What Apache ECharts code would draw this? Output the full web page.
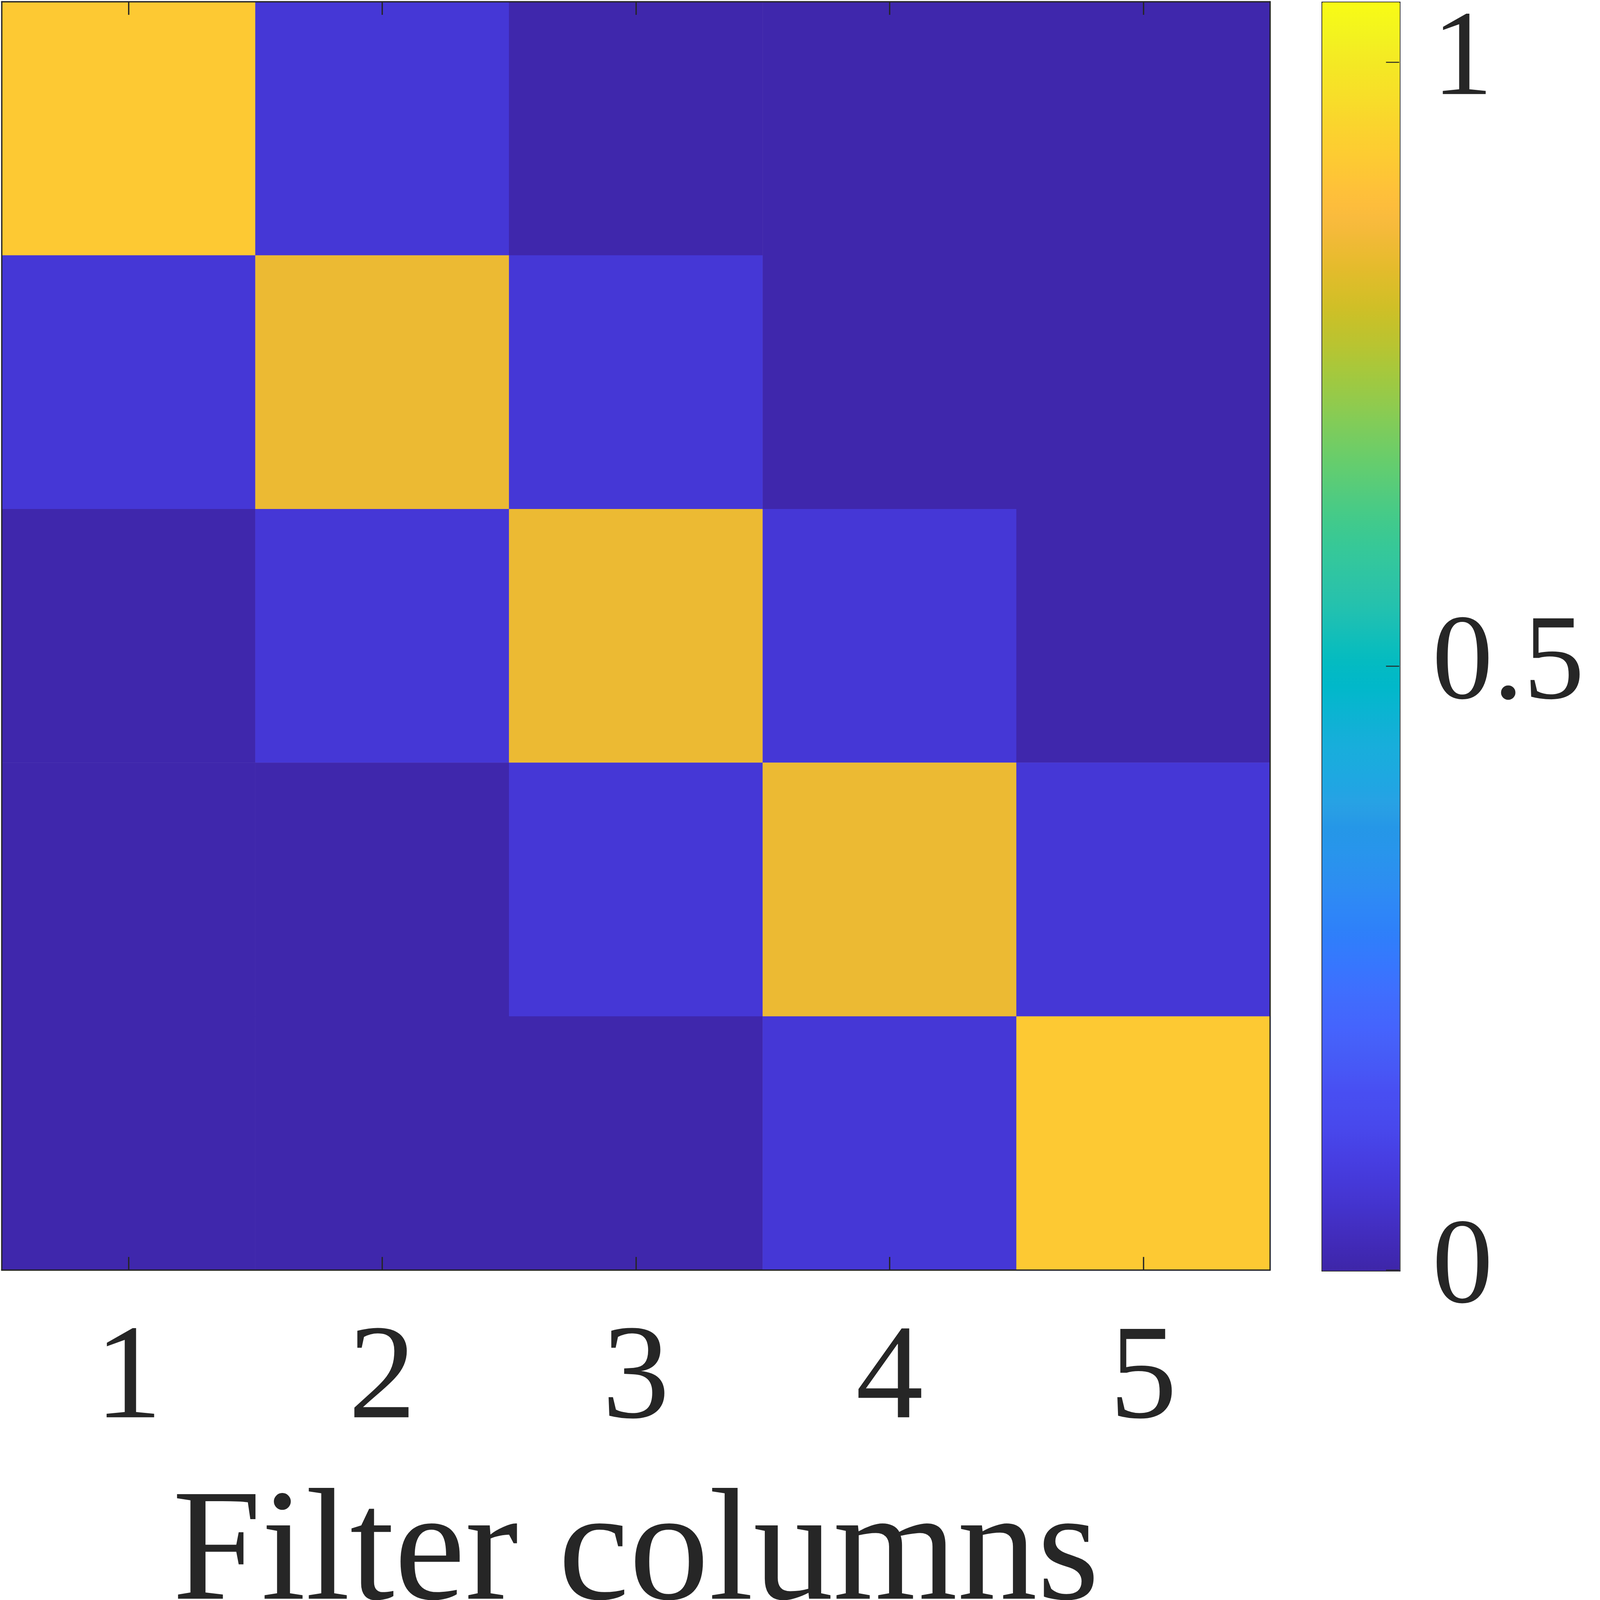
<!DOCTYPE html>
<html>
<head>
<meta charset="utf-8">
<script src="https://cdn.jsdelivr.net/npm/echarts@6/dist/echarts.min.js"></script>
<style>
  html, body { margin: 0; padding: 0; background: #fff; overflow: hidden; }
  #chart { width: 100vw; height: 100vh; }
</style>
</head>
<body>
<div id="chart"></div>
<script>
// filter columns (x) and filter rows (y, top to bottom)
const columns = ['1', '2', '3', '4', '5'];
const rows = ['1', '2', '3', '4', '5'];

// cell values, row by row from the top
const row1 = [0.917, 0.068, 0.006, 0.005, 0.005];
const row2 = [0.068, 0.845, 0.068, 0.006, 0.005];
const row3 = [0.006, 0.068, 0.845, 0.068, 0.006];
const row4 = [0.005, 0.006, 0.068, 0.845, 0.068];
const row5 = [0.005, 0.005, 0.006, 0.068, 0.917];
const values = [row1, row2, row3, row4, row5];

// colour bar
const colorMin = 0;
const colorMax = 1.05;
const colorTicks = [0, 0.5, 1];

// parula
const parula = [
  '#3e26a8','#4029b4','#422ebf','#4332cb','#4537d5','#463cde','#4741e5','#4847eb',
  '#484cf0','#484ff2','#4758f6','#465ef7','#4563fd','#4269fd','#3e6ffe','#3875fe',
  '#327bfc','#2e81f9','#2e87f7','#2d8cf3','#2b91ee','#2796eb','#2596e7','#2aa0e4',
  '#20a5e3','#1caadf','#18aedb','#11b1d6','#08b5d0','#01b8ca','#02bac3','#0bbdbc',
  '#18bfb6','#24c1ae','#2cc3a7','#31c6a0','#37c897','#3fca8e','#4acb84','#57cc7a',
  '#64cd6f','#72cd64','#80cc59','#8fcb4e','#9dc943','#abc739','#b9c431','#c5c12a',
  '#d1bf27','#dcbd29','#e6bb2d','#efba35','#f8ba3d','#fdbd3c','#fec338','#fdc933',
  '#fccf30','#fad52d','#f8dc2a','#f6e227','#f4e924','#f3f021','#f5f71b','#f9fb15'
];

const cells = [];
values.forEach((row, r) => {
  row.forEach((v, c) => cells.push([c, r, v]));
});

const ink = '#262626';
const serif = '"Liberation Serif", "DejaVu Serif", serif';

const dom = document.getElementById('chart');
// the layout was measured on a 4801 x 4860 picture; scale it to the real viewport
const s = Math.min(dom.clientWidth / 4801, dom.clientHeight / 4860);
const px = v => v * s;

const plot = { left: 5, top: 5, size: 3853 };
const bar = { left: 4014, width: 236 };

const chart = echarts.init(dom);

chart.setOption({
  backgroundColor: '#ffffff',
  animation: false,
  grid: [
    { left: px(plot.left), top: px(plot.top), width: px(plot.size), height: px(plot.size),
      containLabel: false, outerBoundsMode: 'none' },
    { left: px(bar.left), top: px(plot.top), width: px(bar.width), height: px(plot.size),
      containLabel: false, outerBoundsMode: 'none' }
  ],
  xAxis: [
    {
      type: 'category',
      gridIndex: 0,
      position: 'bottom',
      data: columns,
      z: 10,
      axisLine: { show: true, onZero: false, lineStyle: { color: ink, width: px(4) } },
      axisTick: { show: true, inside: true, alignWithLabel: true, length: px(40), lineStyle: { color: ink, width: px(4) } },
      axisLabel: { fontFamily: serif, fontSize: px(410), color: ink, margin: px(134) },
      splitLine: { show: false },
      name: 'Filter columns',
      nameLocation: 'middle',
      nameGap: px(628),
      nameTextStyle: { fontFamily: serif, fontSize: px(485), color: ink }
    },
    {
      type: 'category',
      gridIndex: 0,
      position: 'top',
      data: columns,
      z: 10,
      axisLine: { show: true, onZero: false, lineStyle: { color: ink, width: px(4) } },
      axisTick: { show: true, inside: true, alignWithLabel: true, length: px(40), lineStyle: { color: ink, width: px(4) } },
      axisLabel: { show: false },
      splitLine: { show: false }
    },
    {
      type: 'value',
      gridIndex: 1,
      show: false,
      min: 0,
      max: 1
    }
  ],
  yAxis: [
    {
      type: 'category',
      gridIndex: 0,
      position: 'left',
      inverse: true,
      data: rows,
      z: 10,
      axisLine: { show: true, onZero: false, lineStyle: { color: ink, width: px(4) } },
      axisTick: { show: false },
      axisLabel: { show: false },
      splitLine: { show: false }
    },
    {
      type: 'category',
      gridIndex: 0,
      position: 'right',
      inverse: true,
      data: rows,
      z: 10,
      axisLine: { show: true, onZero: false, lineStyle: { color: ink, width: px(4) } },
      axisTick: { show: false },
      axisLabel: { show: false },
      splitLine: { show: false }
    },
    {
      type: 'value',
      gridIndex: 1,
      position: 'right',
      min: colorMin,
      max: colorMax,
      interval: 0.5,
      z: 10,
      axisLine: { show: false, onZero: false },
      axisTick: { show: true, inside: true, length: px(40), lineStyle: { color: ink, width: px(3) } },
      axisLabel: {
        fontFamily: serif,
        fontSize: px(370),
        color: ink,
        margin: px(100),
        showMaxLabel: false,
        padding: [0, 0, px(108), 0],
        formatter: v => (colorTicks.indexOf(v) >= 0 ? String(v) : '')
      },
      splitLine: { show: false }
    }
  ],
  visualMap: {
    type: 'continuous',
    seriesIndex: 0,
    min: colorMin,
    max: colorMax,
    calculable: false,
    realtime: false,
    orient: 'vertical',
    left: px(bar.left),
    top: px(plot.top),
    itemWidth: px(bar.width),
    itemHeight: px(plot.size),
    padding: 0,
    text: null,
    showLabel: false,
    borderColor: ink,
    borderWidth: px(4),
    inRange: { color: parula }
  },
  series: [
    {
      type: 'heatmap',
      xAxisIndex: 0,
      yAxisIndex: 0,
      data: cells,
      itemStyle: { borderWidth: 0 },
      emphasis: { disabled: true }
    }
  ]
});
</script>
</body>
</html>
